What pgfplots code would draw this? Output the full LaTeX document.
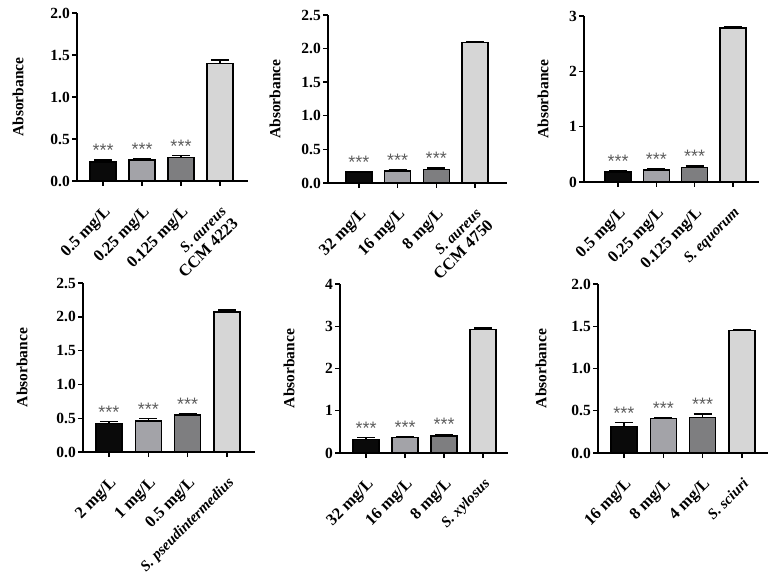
\documentclass[border=0pt]{standalone}
\usepackage{fontspec}
\setmainfont{Liberation Serif}
\newfontfamily\starfont{Liberation Sans}
\usepackage{pgfplots}
\pgfplotsset{compat=1.18}
\definecolor{cA}{HTML}{0A0A0A}
\definecolor{cB}{HTML}{A3A3A8}
\definecolor{cC}{HTML}{7E7E80}
\definecolor{cD}{HTML}{D6D6D6}
\definecolor{starc}{HTML}{5E5E5E}
\newcommand{\spc}[1]{{\itshape\fontsize{15}{16}\selectfont #1}}
\pgfplotsset{
  panel/.style={
    scale only axis, axis lines=left, axis line style={line width=1.4pt,-},
    ymin=0, xtick={0,1,2,3}, tick align=outside, major tick length=5pt,
    every tick/.style={line width=1.4pt,black},
    /pgf/number format/assume math mode=true,
    yticklabel style={font=\bfseries\fontsize{15.5}{15.5}\selectfont, inner sep=2pt},
    xticklabel style={anchor=north east, align=right, inner sep=0pt, xshift=0pt, yshift=-19pt, rotate=45,
      font=\bfseries\fontsize{16.5}{17}\selectfont},
    ylabel={Absorbance},
    ylabel style={font=\bfseries\fontsize{15.5}{15.5}\selectfont, anchor=center, rotate=0},
    clip=false,
  },
  dec/.style={yticklabel style={/pgf/number format/.cd, fixed, fixed zerofill, precision=1}},
  b/.style={ybar, bar width=26pt, bar shift=0pt, draw=black, line width=1.4pt, fill=#1,
    error bars/.cd, y dir=plus, y explicit,
    error bar style={line width=1.3pt, black},
    error mark options={rotate=90, mark size=9pt, line width=1.3pt, black}},
  st/.style={only marks, mark=none, nodes near coords={***},
    nodes near coords style={anchor=south, inner sep=0pt, yshift=3pt, text=starc,
      font=\starfont\fontsize{18}{18}\selectfont}},
}
\begin{document}
\begin{tikzpicture}
\useasboundingbox (0,0) rectangle (776pt,581pt);
% Panel 1
\begin{axis}[panel, dec, at={(77pt,400pt)}, anchor=south west, width=171pt, height=168pt,
  xmin=-0.67, xmax=3.72, ymax=2, ytick={0,0.5,1,1.5,2},
  ylabel style={at={([xshift=-59pt]axis description cs:0,0.5)}},
  xticklabels={0.5 mg/L, 0.25 mg/L, 0.125 mg/L, {\spc{S. aureus}\\CCM 4223}}]
\addplot[b=cA] coordinates {(0,0.225) +- (0,0.025)};
\addplot[b=cB] coordinates {(1,0.25) +- (0,0.02)};
\addplot[b=cC] coordinates {(2,0.28) +- (0,0.025)};
\addplot[b=cD] coordinates {(3,1.40) +- (0,0.04)};
\addplot[st] coordinates {(0,0.25) (1,0.27) (2,0.305)};
\end{axis}
% Panel 2
\begin{axis}[panel, dec, at={(328pt,398pt)}, anchor=south west, width=179pt, height=168pt,
  xmin=-0.8, xmax=3.83, ymax=2.5, ytick={0,0.5,1,1.5,2,2.5},
  ylabel style={at={([xshift=-53pt]axis description cs:0,0.5)}},
  xticklabels={32 mg/L, 16 mg/L, 8 mg/L, {\spc{S. aureus}\\CCM 4750}}]
\addplot[b=cA] coordinates {(0,0.165) +- (0,0.01)};
\addplot[b=cB] coordinates {(1,0.18) +- (0,0.02)};
\addplot[b=cC] coordinates {(2,0.205) +- (0,0.02)};
\addplot[b=cD] coordinates {(3,2.09) +- (0,0.015)};
\addplot[st] coordinates {(0,0.175) (1,0.20) (2,0.225)};
\end{axis}
% Panel 3
\begin{axis}[panel, at={(584pt,399pt)}, anchor=south west, width=175pt, height=166pt,
  xmin=-0.89, xmax=3.68, ymax=3, ytick={0,1,2,3},
  ylabel style={at={([xshift=-41pt]axis description cs:0,0.5)}},
  xticklabels={0.5 mg/L, 0.25 mg/L, 0.125 mg/L, \spc{S. equorum}}]
\addplot[b=cA] coordinates {(0,0.18) +- (0,0.02)};
\addplot[b=cB] coordinates {(1,0.215) +- (0,0.025)};
\addplot[b=cC] coordinates {(2,0.265) +- (0,0.025)};
\addplot[b=cD] coordinates {(3,2.78) +- (0,0.02)};
\addplot[st] coordinates {(0,0.20) (1,0.24) (2,0.29)};
\end{axis}
% Panel 4
\begin{axis}[panel, dec, at={(83pt,129pt)}, anchor=south west, width=172pt, height=169pt,
  xmin=-0.66, xmax=3.71, ymax=2.5, ytick={0,0.5,1,1.5,2,2.5},
  ylabel style={at={([xshift=-61pt]axis description cs:0,0.5)}},
  xticklabels={2 mg/L, 1 mg/L, 0.5 mg/L, \spc{S. pseudintermedius}}]
\addplot[b=cA] coordinates {(0,0.42) +- (0,0.035)};
\addplot[b=cB] coordinates {(1,0.46) +- (0,0.035)};
\addplot[b=cC] coordinates {(2,0.545) +- (0,0.025)};
\addplot[b=cD] coordinates {(3,2.07) +- (0,0.03)};
\addplot[st] coordinates {(0,0.455) (1,0.495) (2,0.57)};
\end{axis}
% Panel 5
\begin{axis}[panel, at={(340pt,128pt)}, anchor=south west, width=168pt, height=169pt,
  xmin=-0.67, xmax=3.64, ymax=4, ytick={0,1,2,3,4},
  ylabel style={at={([xshift=-51pt]axis description cs:0,0.5)}},
  xticklabels={32 mg/L, 16 mg/L, 8 mg/L, \spc{S. xylosus}}]
\addplot[b=cA] coordinates {(0,0.32) +- (0,0.04)};
\addplot[b=cB] coordinates {(1,0.37) +- (0,0.025)};
\addplot[b=cC] coordinates {(2,0.40) +- (0,0.045)};
\addplot[b=cD] coordinates {(3,2.92) +- (0,0.04)};
\addplot[st] coordinates {(0,0.36) (1,0.395) (2,0.445)};
\end{axis}
% Panel 6
\begin{axis}[panel, dec, at={(598pt,128pt)}, anchor=south west, width=170pt, height=169pt,
  xmin=-0.66, xmax=3.66, ymax=2, ytick={0,0.5,1,1.5,2},
  ylabel style={at={([xshift=-57pt]axis description cs:0,0.5)}},
  xticklabels={16 mg/L, 8 mg/L, 4 mg/L, \spc{S. sciuri}}]
\addplot[b=cA] coordinates {(0,0.315) +- (0,0.045)};
\addplot[b=cB] coordinates {(1,0.405) +- (0,0.015)};
\addplot[b=cC] coordinates {(2,0.42) +- (0,0.04)};
\addplot[b=cD] coordinates {(3,1.45) +- (0,0.015)};
\addplot[st] coordinates {(0,0.36) (1,0.42) (2,0.46)};
\end{axis}
\end{tikzpicture}
\end{document}
